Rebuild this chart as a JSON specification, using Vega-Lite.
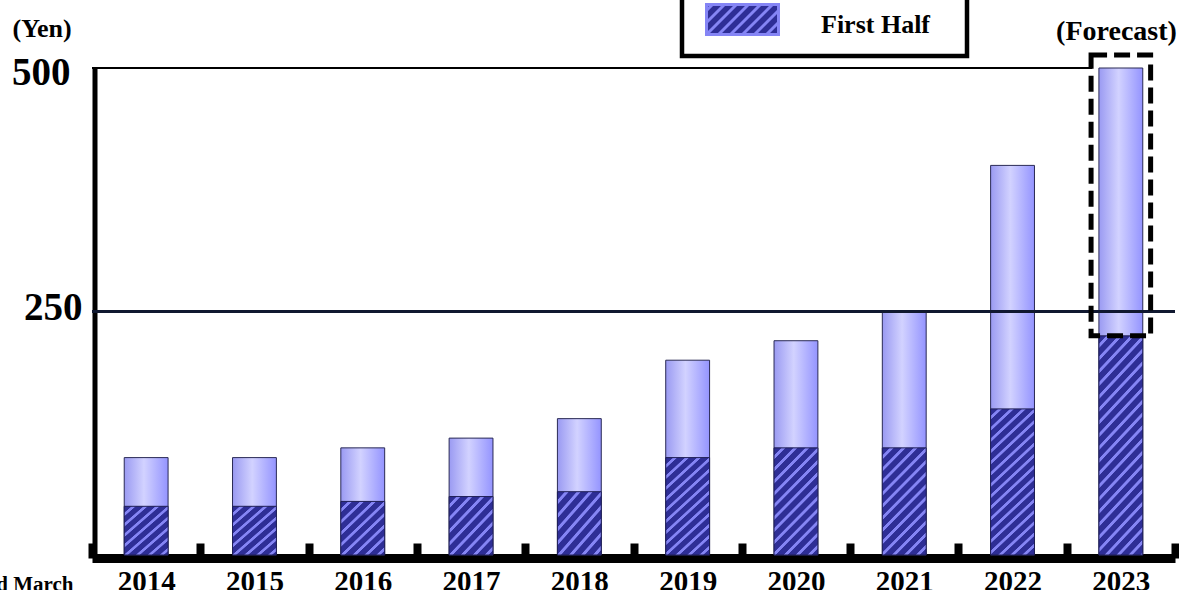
{
"$schema": "https://vega.github.io/schema/vega-lite/v6.json",
"width": 1083,
"height": 487,
"autosize": "none",
"padding": {"left": 92, "top": 68, "right": 4, "bottom": 35},
"background": "white",
"config": {"view": {"stroke": null}, "font": "Liberation Serif"},
"data": {"values": [
{"year": "2014", "first": 50, "total": 100, "half": "First Half"},
{"year": "2015", "first": 50, "total": 100, "half": "First Half"},
{"year": "2016", "first": 55, "total": 110, "half": "First Half"},
{"year": "2017", "first": 60, "total": 120, "half": "First Half"},
{"year": "2018", "first": 65, "total": 140, "half": "First Half"},
{"year": "2019", "first": 100, "total": 200, "half": "First Half"},
{"year": "2020", "first": 110, "total": 220, "half": "First Half"},
{"year": "2021", "first": 110, "total": 250, "half": "First Half"},
{"year": "2022", "first": 150, "total": 400, "half": "First Half"},
{"year": "2023", "first": 225, "total": 500, "half": "First Half"}
]},
"layer": [
{
"mark": {"type": "bar", "width": {"band": 0.405}, "stroke": "#2a2a55", "strokeWidth": 1,
"fill": {"gradient": "linear", "x1": 0, "y1": 0, "x2": 1, "y2": 0, "stops": [
{"offset": 0, "color": "#9A9AF2"}, {"offset": 0.45, "color": "#D2D2FF"}, {"offset": 1, "color": "#9494FF"}]}},
"encoding": {
"x": {"field": "year", "type": "ordinal", "scale": {"paddingInner": 0, "paddingOuter": 0},
"axis": {"title": "Fiscal year ended March", "titleAnchor": "start", "titleAlign": "right", "titleX": -19, "titleY": 32, "titleBaseline": "alphabetic", "titleFont": "Liberation Serif", "titleFontSize": 21, "titleFontWeight": "bold", "titleColor": "black",
"labelAngle": 0, "labelFont": "Liberation Serif", "labelFontSize": 29, "labelFontWeight": "bold", "labelColor": "black", "labelPadding": 24,
"domainColor": "black", "domainWidth": 9, "offset": 3, "tickBand": "extent", "tickSize": -15, "tickWidth": 8, "tickColor": "black", "grid": false}},
"y": {"field": "total", "type": "quantitative", "scale": {"domain": [0, 500], "nice": false},
"axis": {"values": [250, 500], "title": "(Yen)", "titleAngle": 0, "titleAlign": "left", "titleBaseline": "alphabetic", "titleX": -82.5, "titleY": -32, "titleFont": "Liberation Serif", "titleFontSize": 26, "titleFontWeight": "bold", "titleColor": "black",
"labelFont": "Liberation Serif", "labelFontSize": 39, "labelFontWeight": "bold", "labelColor": "black", "labelBaseline": "middle", "labelAlign": "right",
"labelPadding": {"condition": {"test": "datum.value === 500", "value": 24.5}, "value": 12.5},
"labelOffset": {"condition": {"test": "datum.value === 500", "value": 4}, "value": -4},
"ticks": false, "domainColor": "black", "domainWidth": 5, "offset": -2.5, "grid": false}}
}
},
{
"mark": {"type": "rule", "color": "black", "strokeWidth": 2, "xOffset": -54, "x2Offset": -29},
"encoding": {
"y": {"datum": 500, "type": "quantitative"},
"x": {"datum": "2014", "type": "ordinal"},
"x2": {"datum": "2023"}
}
},
{
"mark": {"type": "bar", "width": {"band": 0.405}, "stroke": "#1f1f55", "strokeWidth": 1},
"encoding": {
"x": {"field": "year", "type": "ordinal"},
"y": {"field": "first", "type": "quantitative"},
"fill": {"field": "half", "type": "nominal", "scale": {"range": ["#2E2E96"]},
"legend": {"title": "\u00a0", "titleOrient": "right", "titlePadding": 22, "titleFontSize": 8, "orient": "none", "legendX": 590, "legendY": -101, "padding": 15, "symbolOffset": 8,
"symbolType": "M-1,-0.4167H1V0.4167H-1Z M-0.8333,-0.4167L-1,-0.25 M-0.5,-0.4167L-1,0.0833 M-0.1667,-0.4167L-1,0.4167 M0.1667,-0.4167L-0.6667,0.4167 M0.5,-0.4167L-0.3333,0.4167 M0.8333,-0.4167L0,0.4167 M1,-0.25L0.3333,0.4167 M1,0.0833L0.6667,0.4167",
"symbolSize": 5184, "symbolStrokeColor": "#8585F5", "symbolStrokeWidth": 3, "symbolFillColor": "#2E2E96",
"labelFont": "Liberation Serif", "labelFontSize": 26, "labelFontWeight": "bold", "labelColor": "black", "labelOffset": 41,
"strokeColor": "black", "fillColor": "white",
"encode": {"legend": {"update": {"strokeWidth": {"value": 4.5}}}, "labels": {"update": {"dy": {"value": 5}}}}},
"condition": [
{"test": "datum.year === '2023'", "value": {"gradient": "linear", "x1": 0, "y1": 0, "x2": 0.2479, "y2": 1.1606, "stops": [
{"offset": 0, "color": "#2E2E96"}, {"offset": 0.028, "color": "#2E2E96"}, {"offset": 0.032, "color": "#8585F5"}, {"offset": 0.044, "color": "#8585F5"},
{"offset": 0.048, "color": "#2E2E96"}, {"offset": 0.076, "color": "#2E2E96"}, {"offset": 0.08, "color": "#8585F5"}, {"offset": 0.092, "color": "#8585F5"},
{"offset": 0.096, "color": "#2E2E96"}, {"offset": 0.124, "color": "#2E2E96"}, {"offset": 0.128, "color": "#8585F5"}, {"offset": 0.14, "color": "#8585F5"},
{"offset": 0.144, "color": "#2E2E96"}, {"offset": 0.172, "color": "#2E2E96"}, {"offset": 0.176, "color": "#8585F5"}, {"offset": 0.188, "color": "#8585F5"},
{"offset": 0.192, "color": "#2E2E96"}, {"offset": 0.22, "color": "#2E2E96"}, {"offset": 0.224, "color": "#8585F5"}, {"offset": 0.236, "color": "#8585F5"},
{"offset": 0.24, "color": "#2E2E96"}, {"offset": 0.268, "color": "#2E2E96"}, {"offset": 0.272, "color": "#8585F5"}, {"offset": 0.284, "color": "#8585F5"},
{"offset": 0.288, "color": "#2E2E96"}, {"offset": 0.316, "color": "#2E2E96"}, {"offset": 0.32, "color": "#8585F5"}, {"offset": 0.332, "color": "#8585F5"},
{"offset": 0.336, "color": "#2E2E96"}, {"offset": 0.364, "color": "#2E2E96"}, {"offset": 0.368, "color": "#8585F5"}, {"offset": 0.38, "color": "#8585F5"},
{"offset": 0.384, "color": "#2E2E96"}, {"offset": 0.412, "color": "#2E2E96"}, {"offset": 0.416, "color": "#8585F5"}, {"offset": 0.428, "color": "#8585F5"},
{"offset": 0.432, "color": "#2E2E96"}, {"offset": 0.46, "color": "#2E2E96"}, {"offset": 0.464, "color": "#8585F5"}, {"offset": 0.476, "color": "#8585F5"},
{"offset": 0.48, "color": "#2E2E96"}, {"offset": 0.508, "color": "#2E2E96"}, {"offset": 0.512, "color": "#8585F5"}, {"offset": 0.524, "color": "#8585F5"},
{"offset": 0.528, "color": "#2E2E96"}, {"offset": 0.556, "color": "#2E2E96"}, {"offset": 0.56, "color": "#8585F5"}, {"offset": 0.572, "color": "#8585F5"},
{"offset": 0.576, "color": "#2E2E96"}, {"offset": 0.604, "color": "#2E2E96"}, {"offset": 0.608, "color": "#8585F5"}, {"offset": 0.62, "color": "#8585F5"},
{"offset": 0.624, "color": "#2E2E96"}, {"offset": 0.652, "color": "#2E2E96"}, {"offset": 0.656, "color": "#8585F5"}, {"offset": 0.668, "color": "#8585F5"},
{"offset": 0.672, "color": "#2E2E96"}, {"offset": 0.7, "color": "#2E2E96"}, {"offset": 0.704, "color": "#8585F5"}, {"offset": 0.716, "color": "#8585F5"},
{"offset": 0.72, "color": "#2E2E96"}, {"offset": 0.748, "color": "#2E2E96"}, {"offset": 0.752, "color": "#8585F5"}, {"offset": 0.764, "color": "#8585F5"},
{"offset": 0.768, "color": "#2E2E96"}, {"offset": 0.796, "color": "#2E2E96"}, {"offset": 0.8, "color": "#8585F5"}, {"offset": 0.812, "color": "#8585F5"},
{"offset": 0.816, "color": "#2E2E96"}, {"offset": 0.844, "color": "#2E2E96"}, {"offset": 0.848, "color": "#8585F5"}, {"offset": 0.86, "color": "#8585F5"},
{"offset": 0.864, "color": "#2E2E96"}, {"offset": 0.892, "color": "#2E2E96"}, {"offset": 0.896, "color": "#8585F5"}, {"offset": 0.908, "color": "#8585F5"},
{"offset": 0.912, "color": "#2E2E96"}, {"offset": 0.94, "color": "#2E2E96"}, {"offset": 0.944, "color": "#8585F5"}, {"offset": 0.956, "color": "#8585F5"},
{"offset": 0.96, "color": "#2E2E96"}, {"offset": 0.988, "color": "#2E2E96"}, {"offset": 0.992, "color": "#8585F5"}, {"offset": 1, "color": "#8585F5"}]}},
{"test": "datum.year === '2022'", "value": {"gradient": "linear", "x1": 0, "y1": 0, "x2": 0.335, "y2": 1.1876, "stops": [
{"offset": 0, "color": "#2E2E96"}, {"offset": 0.035, "color": "#2E2E96"}, {"offset": 0.04, "color": "#8585F5"}, {"offset": 0.055, "color": "#8585F5"},
{"offset": 0.06, "color": "#2E2E96"}, {"offset": 0.095, "color": "#2E2E96"}, {"offset": 0.1, "color": "#8585F5"}, {"offset": 0.115, "color": "#8585F5"},
{"offset": 0.12, "color": "#2E2E96"}, {"offset": 0.155, "color": "#2E2E96"}, {"offset": 0.16, "color": "#8585F5"}, {"offset": 0.175, "color": "#8585F5"},
{"offset": 0.18, "color": "#2E2E96"}, {"offset": 0.215, "color": "#2E2E96"}, {"offset": 0.22, "color": "#8585F5"}, {"offset": 0.235, "color": "#8585F5"},
{"offset": 0.24, "color": "#2E2E96"}, {"offset": 0.275, "color": "#2E2E96"}, {"offset": 0.28, "color": "#8585F5"}, {"offset": 0.295, "color": "#8585F5"},
{"offset": 0.3, "color": "#2E2E96"}, {"offset": 0.335, "color": "#2E2E96"}, {"offset": 0.34, "color": "#8585F5"}, {"offset": 0.355, "color": "#8585F5"},
{"offset": 0.36, "color": "#2E2E96"}, {"offset": 0.395, "color": "#2E2E96"}, {"offset": 0.4, "color": "#8585F5"}, {"offset": 0.415, "color": "#8585F5"},
{"offset": 0.42, "color": "#2E2E96"}, {"offset": 0.455, "color": "#2E2E96"}, {"offset": 0.46, "color": "#8585F5"}, {"offset": 0.475, "color": "#8585F5"},
{"offset": 0.48, "color": "#2E2E96"}, {"offset": 0.515, "color": "#2E2E96"}, {"offset": 0.52, "color": "#8585F5"}, {"offset": 0.535, "color": "#8585F5"},
{"offset": 0.54, "color": "#2E2E96"}, {"offset": 0.575, "color": "#2E2E96"}, {"offset": 0.58, "color": "#8585F5"}, {"offset": 0.595, "color": "#8585F5"},
{"offset": 0.6, "color": "#2E2E96"}, {"offset": 0.635, "color": "#2E2E96"}, {"offset": 0.64, "color": "#8585F5"}, {"offset": 0.655, "color": "#8585F5"},
{"offset": 0.66, "color": "#2E2E96"}, {"offset": 0.695, "color": "#2E2E96"}, {"offset": 0.7, "color": "#8585F5"}, {"offset": 0.715, "color": "#8585F5"},
{"offset": 0.72, "color": "#2E2E96"}, {"offset": 0.755, "color": "#2E2E96"}, {"offset": 0.76, "color": "#8585F5"}, {"offset": 0.775, "color": "#8585F5"},
{"offset": 0.78, "color": "#2E2E96"}, {"offset": 0.815, "color": "#2E2E96"}, {"offset": 0.82, "color": "#8585F5"}, {"offset": 0.835, "color": "#8585F5"},
{"offset": 0.84, "color": "#2E2E96"}, {"offset": 0.875, "color": "#2E2E96"}, {"offset": 0.88, "color": "#8585F5"}, {"offset": 0.895, "color": "#8585F5"},
{"offset": 0.9, "color": "#2E2E96"}, {"offset": 0.935, "color": "#2E2E96"}, {"offset": 0.94, "color": "#8585F5"}, {"offset": 0.955, "color": "#8585F5"},
{"offset": 0.96, "color": "#2E2E96"}, {"offset": 1, "color": "#2E2E96"}]}},
{"test": "datum.first >= 95", "value": {"gradient": "linear", "x1": 0, "y1": 0, "x2": 0.5011, "y2": 1.2071, "stops": [
{"offset": 0, "color": "#2E2E96"}, {"offset": 0.0467, "color": "#2E2E96"}, {"offset": 0.0533, "color": "#8585F5"}, {"offset": 0.0733, "color": "#8585F5"},
{"offset": 0.08, "color": "#2E2E96"}, {"offset": 0.1267, "color": "#2E2E96"}, {"offset": 0.1333, "color": "#8585F5"}, {"offset": 0.1533, "color": "#8585F5"},
{"offset": 0.16, "color": "#2E2E96"}, {"offset": 0.2067, "color": "#2E2E96"}, {"offset": 0.2133, "color": "#8585F5"}, {"offset": 0.2333, "color": "#8585F5"},
{"offset": 0.24, "color": "#2E2E96"}, {"offset": 0.2867, "color": "#2E2E96"}, {"offset": 0.2933, "color": "#8585F5"}, {"offset": 0.3133, "color": "#8585F5"},
{"offset": 0.32, "color": "#2E2E96"}, {"offset": 0.3667, "color": "#2E2E96"}, {"offset": 0.3733, "color": "#8585F5"}, {"offset": 0.3933, "color": "#8585F5"},
{"offset": 0.4, "color": "#2E2E96"}, {"offset": 0.4467, "color": "#2E2E96"}, {"offset": 0.4533, "color": "#8585F5"}, {"offset": 0.4733, "color": "#8585F5"},
{"offset": 0.48, "color": "#2E2E96"}, {"offset": 0.5267, "color": "#2E2E96"}, {"offset": 0.5333, "color": "#8585F5"}, {"offset": 0.5533, "color": "#8585F5"},
{"offset": 0.56, "color": "#2E2E96"}, {"offset": 0.6067, "color": "#2E2E96"}, {"offset": 0.6133, "color": "#8585F5"}, {"offset": 0.6333, "color": "#8585F5"},
{"offset": 0.64, "color": "#2E2E96"}, {"offset": 0.6867, "color": "#2E2E96"}, {"offset": 0.6933, "color": "#8585F5"}, {"offset": 0.7133, "color": "#8585F5"},
{"offset": 0.72, "color": "#2E2E96"}, {"offset": 0.7667, "color": "#2E2E96"}, {"offset": 0.7733, "color": "#8585F5"}, {"offset": 0.7933, "color": "#8585F5"},
{"offset": 0.8, "color": "#2E2E96"}, {"offset": 0.8467, "color": "#2E2E96"}, {"offset": 0.8533, "color": "#8585F5"}, {"offset": 0.8733, "color": "#8585F5"},
{"offset": 0.88, "color": "#2E2E96"}, {"offset": 0.9267, "color": "#2E2E96"}, {"offset": 0.9333, "color": "#8585F5"}, {"offset": 0.9533, "color": "#8585F5"},
{"offset": 0.96, "color": "#2E2E96"}, {"offset": 1, "color": "#2E2E96"}]}},
{"test": "datum.first < 95", "value": {"gradient": "linear", "x1": 0, "y1": 0, "x2": 0.8675, "y2": 1.1041, "stops": [
{"offset": 0, "color": "#2E2E96"}, {"offset": 0.07, "color": "#2E2E96"}, {"offset": 0.08, "color": "#8585F5"}, {"offset": 0.11, "color": "#8585F5"},
{"offset": 0.12, "color": "#2E2E96"}, {"offset": 0.19, "color": "#2E2E96"}, {"offset": 0.2, "color": "#8585F5"}, {"offset": 0.23, "color": "#8585F5"},
{"offset": 0.24, "color": "#2E2E96"}, {"offset": 0.31, "color": "#2E2E96"}, {"offset": 0.32, "color": "#8585F5"}, {"offset": 0.35, "color": "#8585F5"},
{"offset": 0.36, "color": "#2E2E96"}, {"offset": 0.43, "color": "#2E2E96"}, {"offset": 0.44, "color": "#8585F5"}, {"offset": 0.47, "color": "#8585F5"},
{"offset": 0.48, "color": "#2E2E96"}, {"offset": 0.55, "color": "#2E2E96"}, {"offset": 0.56, "color": "#8585F5"}, {"offset": 0.59, "color": "#8585F5"},
{"offset": 0.6, "color": "#2E2E96"}, {"offset": 0.67, "color": "#2E2E96"}, {"offset": 0.68, "color": "#8585F5"}, {"offset": 0.71, "color": "#8585F5"},
{"offset": 0.72, "color": "#2E2E96"}, {"offset": 0.79, "color": "#2E2E96"}, {"offset": 0.8, "color": "#8585F5"}, {"offset": 0.83, "color": "#8585F5"},
{"offset": 0.84, "color": "#2E2E96"}, {"offset": 0.91, "color": "#2E2E96"}, {"offset": 0.92, "color": "#8585F5"}, {"offset": 0.95, "color": "#8585F5"},
{"offset": 0.96, "color": "#2E2E96"}, {"offset": 1, "color": "#2E2E96"}]}}
]}
}
},
{
"mark": {"type": "rule", "color": "#101830", "strokeWidth": 2},
"encoding": {"y": {"datum": 250, "type": "quantitative"}}
},
{
"transform": [{"filter": "datum.year === '2023'"}],
"mark": {"type": "bar", "width": {"band": 0.55}, "fill": "transparent", "stroke": "black", "strokeWidth": 5, "strokeDash": [16, 7], "yOffset": -13},
"encoding": {
"x": {"field": "year", "type": "ordinal"},
"y": {"field": "total", "type": "quantitative"},
"y2": {"field": "first"}
}
},
{
"transform": [{"filter": "datum.year === '2023'"}],
"mark": {"type": "text", "text": "(Forecast)", "align": "right", "baseline": "alphabetic", "dx": 56, "dy": -28, "font": "Liberation Serif", "fontSize": 28, "fontWeight": "bold", "color": "black"},
"encoding": {
"x": {"field": "year", "type": "ordinal"},
"y": {"field": "total", "type": "quantitative"}
}
}
]
}
